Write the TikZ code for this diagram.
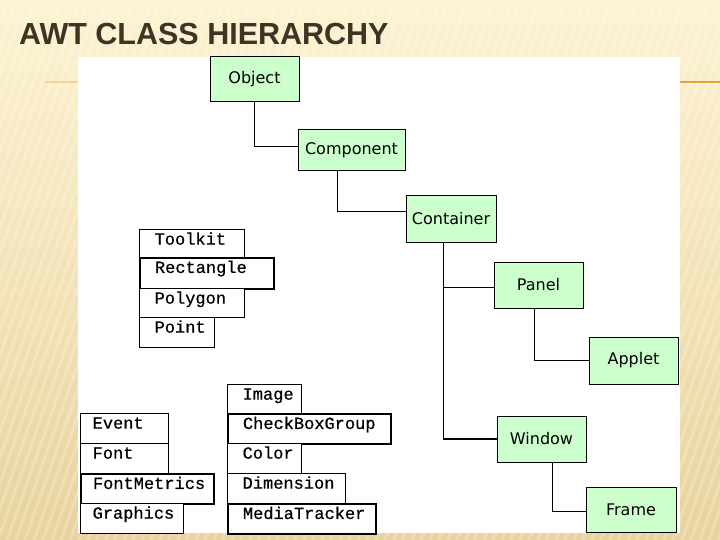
\documentclass[tikz,border=0pt]{standalone}
\usepackage{fontspec}
\newfontfamily\titlefont{Liberation Sans}
\newfontfamily\boxfont{DejaVu Sans}
\newfontfamily\monofont[FakeBold=0.6]{Liberation Mono}
\definecolor{bgtop}{HTML}{FDF3D2}
\definecolor{bgbot}{HTML}{E8D39D}
\definecolor{boxgreen}{HTML}{CCFFCC}
\definecolor{titlecol}{HTML}{3E3424}
\definecolor{rulecol}{HTML}{E8A33A}
\newcommand\wtext[3]{\makebox[#1pt][l]{\hspace*{#2pt}#3}}
\begin{document}
\begin{tikzpicture}[x=1pt,y=-1pt,
  gbox/.style={draw=black, line width=1pt, fill=boxgreen, inner sep=0pt,
    font=\boxfont\fontsize{16}{18}\selectfont},
  wbox/.style={draw=black, line width=1.3pt, fill=white, inner sep=0pt,
    anchor=north west, text height=15pt, font=\monofont\fontsize{17}{19}\selectfont},
  thick box/.style={line width=1.9pt},
  link/.style={draw=black, line width=1pt}]
\useasboundingbox (0,0) rectangle (720,540);
% background
\shade[top color=bgtop, bottom color=bgbot] (0,0) rectangle (720,540);
\begin{scope}
\clip (0,0) rectangle (720,540);
\foreach \i in {-200,-191,...,720}
  \draw[white, opacity=0.22, line width=3pt] (\i,540) -- (\i+190,0);
\end{scope}
% rule
\draw[rulecol!40!bgtop, line width=1.4pt] (45,82) -- (78,82);
\draw[rulecol, line width=1.4pt] (680,82) -- (720,82);
% title
\node[anchor=base west, text=titlecol, font=\titlefont\bfseries\fontsize{30.5}{34}\selectfont,
  inner sep=0pt] (title) at (19,44.5) {AWT CLASS HIERARCHY};
% panel
\fill[white] (78,57) rectangle (680,533);
% green boxes
\node[gbox, minimum width=89pt, minimum height=45pt] (obj) at (254.5,79.5) {Object};
\node[gbox, minimum width=107pt, minimum height=41pt] (comp) at (351.5,150.5) {Component};
\node[gbox, minimum width=90pt, minimum height=46pt] (cont) at (451,219) {Container};
\node[gbox, minimum width=89pt, minimum height=46pt] (panel) at (538.5,285) {Panel};
\node[gbox, minimum width=89pt, minimum height=47pt] (applet) at (633.5,360.5) {Applet};
\node[gbox, minimum width=89pt, minimum height=46pt] (win) at (541.5,439) {Window};
\node[gbox, minimum width=90pt, minimum height=45pt] (frame) at (631,509.5) {Frame};
% connectors
\draw[link] (obj.south) |- ([yshift=4pt]comp.west);
\draw[link] ([xshift=-14.5pt]comp.south) |- ([yshift=7pt]cont.west);
\draw[link] ([xshift=-8pt]cont.south) |- ([yshift=-2pt]panel.west);
\draw[link] ([xshift=-8pt]cont.south) |- (win.west);
\draw[link, line width=2pt] ([xshift=-8pt]cont.south |- win.west) -- (win.west);
\draw[link] ([xshift=-4.5pt]panel.south) |- (applet.west);
\draw[link] ([xshift=10.5pt]win.south) |- ([yshift=-1.5pt]frame.west);
% white boxes: upper-left stack
\node[wbox, text depth=13pt] (toolkit) at (139,229) {\wtext{105}{15}{Toolkit}};
\node[wbox, thick box, text depth=16pt] (rect) at (139,257) {\wtext{134}{15}{Rectangle}};
\node[wbox, text depth=14pt] (poly) at (139,288) {\wtext{105}{15}{Polygon}};
\node[wbox, text depth=15pt] (point) at (139,317) {\wtext{75}{15}{Point}};
% lower-left stack
\node[wbox, text depth=15pt] (event) at (80,413) {\wtext{88}{12}{Event}};
\node[wbox, text depth=15pt] (font) at (80,443) {\wtext{88}{12}{Font}};
\node[wbox, thick box, text depth=15pt] (fm) at (80,473) {\wtext{133}{12}{FontMetrics}};
\node[wbox, text depth=15pt] (gfx) at (80,503) {\wtext{103}{12}{Graphics}};
% lower-middle stack
\node[wbox, text depth=14pt] (image) at (227,384) {\wtext{74}{15}{Image}};
\node[wbox, thick box, text depth=15pt] (cbg) at (227,413) {\wtext{163}{15}{CheckBoxGroup}};
\node[wbox, text depth=15pt] (color) at (227,443) {\wtext{74}{15}{Color}};
\node[wbox, text depth=15pt] (dim) at (227,473) {\wtext{118}{15}{Dimension}};
\node[wbox, thick box, text depth=15pt] (mt) at (227,503) {\wtext{148}{15}{MediaTracker}};
\end{tikzpicture}
\end{document}
